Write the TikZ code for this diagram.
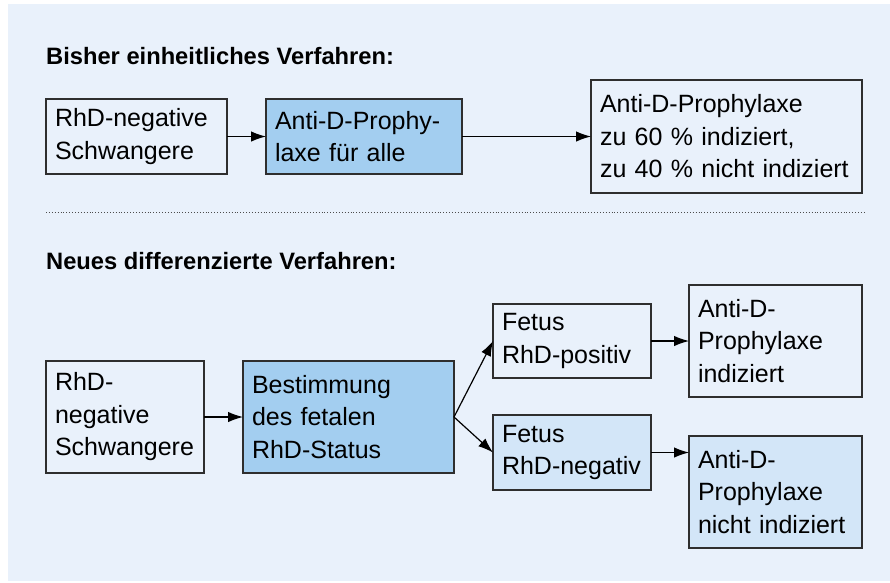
\documentclass[tikz,border=0pt]{standalone}
\usepackage{fontspec}
\setmainfont{Liberation Sans}
\usetikzlibrary{arrows.meta}
\definecolor{panel}{HTML}{E9F1FB}
\definecolor{darkfill}{HTML}{A3CEF0}
\definecolor{lightfill}{HTML}{D3E6F8}
\definecolor{edge}{HTML}{2E2E2E}
\begin{document}
\begin{tikzpicture}[x=1pt,y=-1pt,
  box/.style={draw=edge, line width=1.2pt, anchor=north west, inner xsep=9pt, inner ysep=0pt,
    align=left, font=\fontsize{25}{32.5}\selectfont, outer sep=0pt, fill=panel},
  title/.style={anchor=base west, inner sep=0pt, font=\fontsize{23.7}{30}\selectfont\bfseries},
  arr/.style={-{Latex[length=15pt,width=10.5pt]}, line width=1.2pt, draw=black},
  sep/.style={dotted, line width=0.9pt, draw=black!70}]
\useasboundingbox (0,0) rectangle (890,582);
\fill[white] (0,0) rectangle (890,582);
\fill[panel] (8,4) rectangle (890,581);

% top section
\node[title] (t1) at (46,64) {Bisher einheitliches Verfahren:};
\node[box, minimum width=181, minimum height=75, text width=163] (a1) at (46,99)
  {RhD-negative\\Schwangere};
\node[box, fill=darkfill, minimum width=196, minimum height=75, text width=178] (a2) at (266,99)
  {Anti-D-Prophy-\\laxe für alle};
\node[box, minimum width=271, minimum height=113, text width=253] (a3) at (591,80)
  {Anti-D-Prophylaxe\\zu 60~\% indiziert,\\zu 40~\% nicht indiziert};

\draw[arr] (a1.east) -- (a1.east -| a2.west);
\draw[arr] (a2.east) -- (a2.east -| a3.west);

\coordinate (s1) at (46,212);
\coordinate (s2) at (864,212);
\draw[sep] (s1) -- (s2);

% bottom section
\node[title] (t2) at (46,269) {Neues differenzierte Verfahren:};
\node[box, minimum width=158, minimum height=112, text width=140] (b1) at (46,361)
  {RhD-\\negative\\Schwangere};
\node[box, fill=darkfill, minimum width=211, minimum height=112, text width=193] (b2) at (243,361)
  {Bestimmung\\des fetalen\\RhD-Status};
\node[box, minimum width=158, minimum height=74, text width=140] (c1) at (493,304)
  {Fetus\\RhD-positiv};
\node[box, fill=lightfill, minimum width=158, minimum height=75, text width=140] (c2) at (493,415)
  {Fetus\\RhD-negativ};
\node[box, minimum width=173, minimum height=112, text width=155] (d1) at (689,285)
  {Anti-D-\\Prophylaxe\\indiziert};
\node[box, fill=lightfill, minimum width=173, minimum height=112, text width=155] (d2) at (689,436)
  {Anti-D-\\Prophylaxe\\nicht indiziert};

\draw[arr] (b1.east) -- (b1.east -| b2.west);
\draw[arr] (b2.east) -- (c1.west);
\draw[arr] (b2.east) -- (c2.west);
\draw[arr] (c1.east) -- (c1.east -| d1.west);
\draw[arr] (c2.east) -- (c2.east -| d2.west);
\end{tikzpicture}
\end{document}
